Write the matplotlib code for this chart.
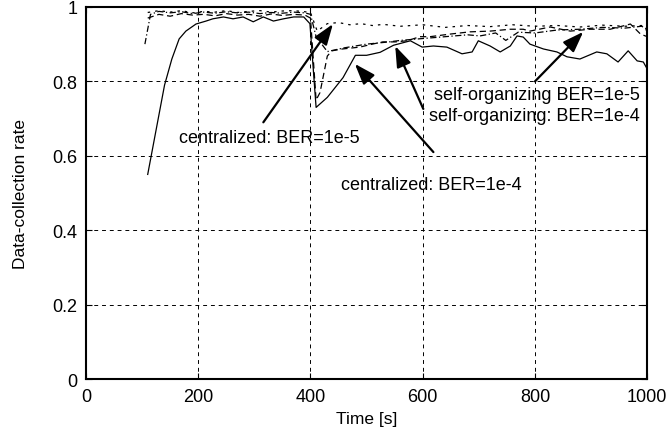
import matplotlib
matplotlib.use("Agg")
import matplotlib.pyplot as plt

plt.rcParams['font.family'] = ['Liberation Sans', 'DejaVu Sans']

# centralized, BER=1e-4 (solid)
t_c4 = [110, 125, 140, 153, 166, 178, 196, 214, 226, 245, 262, 280, 298, 316, 334, 352, 370, 388, 399,
        410, 430, 458, 480, 500, 524, 548, 578, 599, 619, 643, 670, 688, 699, 720, 738, 756, 768, 779,
        791, 815, 839, 857, 880, 910, 928, 948, 966, 982, 993, 1000]
y_c4 = [0.55, 0.67, 0.79, 0.86, 0.914, 0.935, 0.954, 0.962, 0.968, 0.973, 0.968, 0.973, 0.96, 0.973, 0.962,
        0.968, 0.973, 0.973, 0.955,
        0.73, 0.757, 0.81, 0.87, 0.87, 0.878, 0.897, 0.909, 0.892, 0.895, 0.892, 0.874, 0.879, 0.909, 0.895,
        0.879, 0.895, 0.922, 0.919, 0.9, 0.887, 0.879, 0.866, 0.86, 0.879, 0.874, 0.852, 0.882, 0.855,
        0.852, 0.833]

# centralized, BER=1e-5 (dotted)
t_c5 = [110, 130, 150, 170, 190, 210, 230, 250, 270, 290, 310, 330, 350, 370, 390, 400,
        412, 430, 450, 470, 490, 510, 530, 560, 600, 640, 680, 720, 760, 800, 840, 880, 920, 960, 990, 1000]
y_c5 = [0.985, 0.99, 0.986, 0.99, 0.984, 0.988, 0.986, 0.99, 0.985, 0.988, 0.99, 0.986, 0.989, 0.99, 0.987, 0.985,
        0.935, 0.955, 0.958, 0.952, 0.955, 0.95, 0.953, 0.948, 0.952, 0.945, 0.95, 0.947, 0.952, 0.948,
        0.95, 0.946, 0.951, 0.948, 0.95, 0.935]

# self-organizing, BER=1e-4 (dashed)
t_s4 = [110, 130, 150, 170, 190, 210, 230, 250, 270, 290, 310, 330, 350, 370, 390, 400,
        410, 417, 430, 438, 457, 488, 510, 529, 551, 572, 595, 613, 649, 684, 720, 756, 779,
        791, 827, 863, 898, 934, 970, 988, 1000]
y_s4 = [0.97, 0.98, 0.975, 0.982, 0.978, 0.98, 0.976, 0.982, 0.978, 0.98, 0.975, 0.981, 0.977, 0.98, 0.978, 0.97,
        0.75, 0.77, 0.868, 0.882, 0.887, 0.892, 0.9, 0.906, 0.906, 0.909, 0.92, 0.92, 0.927, 0.933, 0.935,
        0.94, 0.94, 0.935, 0.946, 0.935, 0.94, 0.94, 0.954, 0.927, 0.92]

# self-organizing, BER=1e-5 (dash-dot)
t_s5 = [105, 115, 130, 150, 170, 190, 210, 230, 250, 270, 290, 310, 330, 350, 370, 390, 400,
        410, 430, 460, 500, 540, 560, 600, 640, 680, 702, 730, 748, 770, 800, 840, 880, 920, 960, 990, 1000]
y_s5 = [0.90, 0.98, 0.988, 0.984, 0.987, 0.982, 0.986, 0.983, 0.987, 0.984, 0.986, 0.982, 0.985, 0.983, 0.986,
        0.984, 0.98,
        0.92, 0.88, 0.89, 0.9, 0.906, 0.91, 0.915, 0.92, 0.925, 0.922, 0.93, 0.91, 0.932, 0.93, 0.938,
        0.94, 0.945, 0.943, 0.948, 0.94]

fig = plt.figure(figsize=(6.69, 4.39), dpi=100)
ax = fig.add_axes([0.1285, 0.134, 0.839, 0.848])

lw = 0.9
ax.plot(t_c4, y_c4, color='black', linestyle='-', linewidth=lw)
ax.plot(t_c5, y_c5, color='black', linestyle=(0, (2, 4)), linewidth=lw)
ax.plot(t_s4, y_s4, color='black', linestyle=(0, (5, 3)), linewidth=lw)
ax.plot(t_s5, y_s5, color='black', linestyle=(0, (5, 2, 1, 2)), linewidth=lw)

ax.set_xlim(0, 1000)
ax.set_ylim(0, 1)
ax.set_xticks([0, 200, 400, 600, 800, 1000])
ax.set_yticks([0, 0.2, 0.4, 0.6, 0.8, 1])
ax.set_yticklabels(['0', '0.2', '0.4', '0.6', '0.8', '1'])
ax.grid(True, color='black', linestyle=(0, (4, 4)), linewidth=0.7)
ax.tick_params(direction='in', top=True, right=True, length=4, labelsize=13, pad=6)
for s in ax.spines.values():
    s.set_linewidth(1.5)

ax.set_xlabel('Time [s]', fontsize=12.5, labelpad=5)
ax.set_ylabel('Data-collection rate', fontsize=12.5, labelpad=18)

akw = dict(arrowstyle='-|>,head_length=0.7,head_width=0.25', color='black', lw=1.6,
           mutation_scale=18, shrinkA=0, shrinkB=0)
fs = 13
ax.annotate('', xy=(440, 0.954), xytext=(316, 0.69), arrowprops=akw)
ax.text(326, 0.648, 'centralized: BER=1e-5', fontsize=fs, ha='center', va='center')
ax.annotate('', xy=(479, 0.847), xytext=(619, 0.61), arrowprops=akw)
ax.text(615, 0.524, 'centralized: BER=1e-4', fontsize=fs, ha='center', va='center')
ax.annotate('', xy=(551, 0.895), xytext=(601, 0.726), arrowprops=akw)
ax.annotate('', xy=(886, 0.933), xytext=(800, 0.80), arrowprops=akw)
ax.text(986, 0.766, 'self-organizing BER=1e-5', fontsize=fs, ha='right', va='center')
ax.text(986, 0.707, 'self-organizing: BER=1e-4', fontsize=fs, ha='right', va='center')

fig.savefig('out.png', dpi=100)
